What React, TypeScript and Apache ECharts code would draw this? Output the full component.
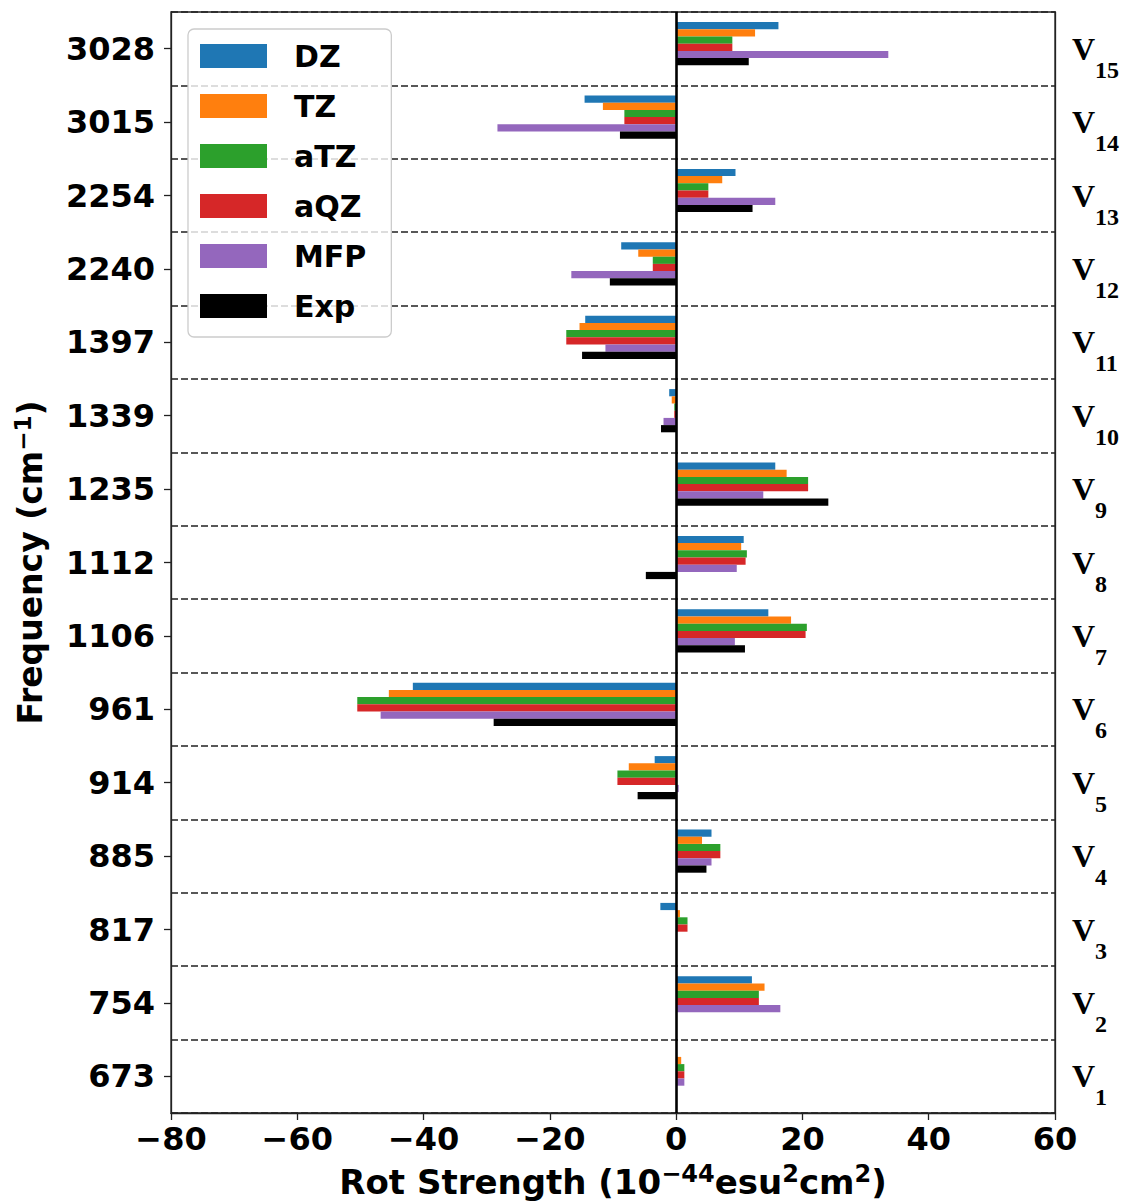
import React, { useEffect, useRef } from "react";
import * as echarts from "echarts";

// Categories (bottom to top)
const frequencies = ["673", "754", "817", "885", "914", "961", "1106", "1112", "1235", "1339", "1397", "2240", "2254", "3015", "3028"];
const modeIndices = ["1", "2", "3", "4", "5", "6", "7", "8", "9", "10", "11", "12", "13", "14", "15"];

const seriesNames = ["DZ", "TZ", "aTZ", "aQZ", "MFP", "Exp"];
const seriesColors = ["#1f77b4", "#ff7f0e", "#2ca02c", "#d62728", "#9467bd", "#000000"];

// Rotational strengths, V1 ... V15
const dzValues = [0, 12.0, -2.5, 5.6, -3.4, -41.7, 14.6, 10.7, 15.7, -1.1, -14.4, -8.7, 9.4, -14.5, 16.2];
const tzValues = [0.8, 14.0, 0.6, 4.1, -7.5, -45.5, 18.2, 10.3, 17.5, -0.7, -15.3, -6.0, 7.3, -11.6, 12.5];
const atzValues = [1.3, 13.1, 1.8, 7.0, -9.3, -50.5, 20.7, 11.2, 20.9, -0.3, -17.4, -3.7, 5.1, -8.2, 8.9];
const aqzValues = [1.3, 13.1, 1.8, 7.0, -9.3, -50.5, 20.5, 11.0, 20.9, -0.3, -17.4, -3.7, 5.1, -8.2, 8.9];
const mfpValues = [1.3, 16.5, 0, 5.6, 0.4, -46.8, 9.3, 9.6, 13.8, -2.0, -11.2, -16.6, 15.7, -28.3, 33.6];
const expValues = [0, 0, 0, 4.8, -6.1, -28.9, 10.9, -4.8, 24.1, -2.4, -14.9, -10.5, 12.1, -8.9, 11.5];

const allValues = [dzValues, tzValues, atzValues, aqzValues, mfpValues, expValues];

const xMin = -80;
const xMax = 60;
const xInterval = 20;

const FONT = "DejaVu Sans";
const SERIF = "Liberation Serif";

export default function App() {
  const ref = useRef<HTMLDivElement>(null);

  useEffect(() => {
    document.body.style.margin = "0";
    if (!ref.current) return;
    const chart = echarts.init(ref.current, null, { renderer: "svg" });

    const frameColor = "#222222";
    const gridMain = {
      left: 171, right: 69, top: 12, bottom: 91,
      outerBoundsMode: "none", containLabel: false,
      show: true, borderColor: frameColor, borderWidth: 1.3, backgroundColor: "transparent",
    };
    const gridBars = { left: 171, right: 69, top: 7, bottom: 96, outerBoundsMode: "none", containLabel: false };

    const barSeries = seriesNames.map((name, i) => ({
      name,
      type: "bar",
      xAxisIndex: 1,
      yAxisIndex: 2,
      data: allValues[i],
      barWidth: 7.2,
      barGap: "0%",
      itemStyle: { color: seriesColors[i] },
      z: 3,
    }));

    const option: any = {
      animation: false,
      backgroundColor: "#ffffff",
      grid: [gridMain, gridBars],
      legend: {
        data: seriesNames,
        orient: "vertical",
        left: 188,
        top: 29,
        icon: "rect",
        itemWidth: 67,
        itemHeight: 24,
        itemGap: 20,
        padding: [12, 25, 16, 12],
        backgroundColor: "rgba(255,255,255,0.8)",
        borderColor: "#cccccc",
        borderWidth: 1.3,
        borderRadius: 6,
        textStyle: { fontSize: 30, fontWeight: "bold", fontFamily: FONT, color: "#000", lineHeight: 24, padding: [0, 0, 0, 22] },
      },
      xAxis: [
        {
          type: "value",
          gridIndex: 0,
          min: xMin,
          max: xMax,
          interval: xInterval,
          name: "Rot Strength (10{sup|−44}esu{sup|2}cm{sup|2})",
          nameLocation: "middle",
          nameGap: 49,
          nameTextStyle: {
            fontSize: 34,
            fontWeight: "bold",
            fontFamily: FONT,
            color: "#000",
            verticalAlign: "top",
            rich: {
              sup: { fontSize: 24, fontWeight: "bold", fontFamily: FONT, color: "#000", padding: [0, 0, 15, 0] },
            },
          },
          axisLine: { show: true, onZero: false, lineStyle: { color: frameColor, width: 1.3 } },
          axisTick: { show: true, inside: false, length: 7, lineStyle: { color: frameColor, width: 1.3 } },
          axisLabel: {
            fontSize: 32,
            fontWeight: "bold",
            fontFamily: FONT,
            color: "#000",
            margin: 10,
            formatter: (v: number) => String(v).replace("-", "−"),
          },
          splitLine: { show: false },
        },
        {
          type: "value",
          gridIndex: 1,
          min: xMin,
          max: xMax,
          interval: xInterval,
          show: false,
          splitLine: { show: false },
        },
      ],
      yAxis: [
        {
          type: "category",
          gridIndex: 0,
          position: "left",
          data: frequencies,
          name: "Frequency (cm{sup|−1})",
          nameLocation: "middle",
          nameGap: 122,
          nameTextStyle: {
            fontSize: 33,
            fontWeight: "bold",
            fontFamily: FONT,
            color: "#000",
            rich: {
              sup: { fontSize: 23, fontWeight: "bold", fontFamily: FONT, color: "#000", padding: [0, 0, 15, 0] },
            },
          },
          axisLine: { show: true, onZero: false, lineStyle: { color: frameColor, width: 1.3 } },
          axisTick: { show: true, alignWithLabel: true, inside: false, length: 7, lineStyle: { color: frameColor, width: 1.3 } },
          axisLabel: { interval: 0, fontSize: 32, fontWeight: "bold", fontFamily: FONT, color: "#000", margin: 16 },
          splitLine: { show: true, interval: 0, lineStyle: { color: "#222222", width: 1.6, type: [7, 3] } },
        },
        {
          type: "category",
          gridIndex: 0,
          position: "right",
          data: frequencies,
          axisLine: { show: true, onZero: false, lineStyle: { color: frameColor, width: 1.3 } },
          axisTick: { show: false },
          splitLine: { show: false },
          axisLabel: {
            interval: 0,
            margin: 17,
            formatter: (_v: string, idx: number) => `{v|V}{s|${modeIndices[idx]}}`,
            rich: {
              v: { fontFamily: SERIF, fontWeight: "bold", fontSize: 32, lineHeight: 34, color: "#000" },
              s: { fontFamily: SERIF, fontWeight: "bold", fontSize: 24, lineHeight: 24, color: "#000", padding: [42, 0, 0, 0] },
            },
          },
        },
        {
          type: "category",
          gridIndex: 1,
          data: frequencies,
          show: false,
        },
      ],
      series: [
        ...barSeries,
        {
          name: "zero",
          type: "line",
          xAxisIndex: 0,
          yAxisIndex: 0,
          data: [],
          silent: true,
          z: 5,
          markLine: {
            silent: true,
            symbol: ["none", "none"],
            label: { show: false },
            lineStyle: { color: "#000", width: 2.6, type: "solid" },
            data: [{ xAxis: 0 }],
          },
        },
      ],
    };

    chart.setOption(option);
    return () => chart.dispose();
  }, []);

  return <div ref={ref} style={{ width: 1124, height: 1204 }} />;
}
